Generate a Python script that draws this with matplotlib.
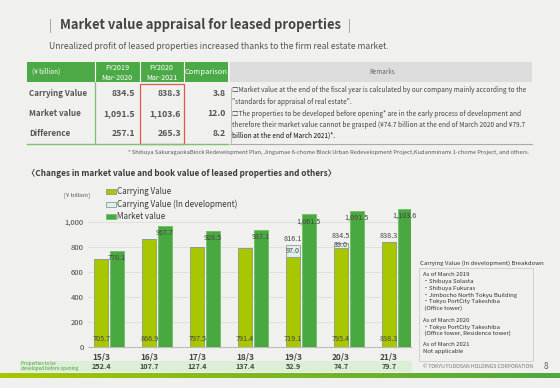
import numpy as np
import matplotlib
matplotlib.use("Agg")
import matplotlib.pyplot as plt
from matplotlib.patches import Rectangle
from matplotlib.lines import Line2D

plt.rcParams['font.family'] = ['Noto Sans CJK JP', 'DejaVu Sans']

# ---------------- data ----------------
years = ["15/3", "16/3", "17/3", "18/3", "19/3", "20/3", "21/3"]
carrying = [705.7, 866.9, 797.5, 791.4, 719.1, 795.4, 838.3]
in_dev = [0, 0, 0, 0, 97.0, 39.0, 0]
market = [770.1, 967.7, 928.5, 937.1, 1061.5, 1091.5, 1103.6]
carrying_total_labels = [None, None, None, None, "816.1", "834.5", "838.3"]
before_opening = ["252.4", "107.7", "127.4", "137.4", "52.9", "74.7", "79.7"]

table_rows = ["Carrying Value", "Market value", "Difference"]
fy2019 = ["834.5", "1,091.5", "257.1"]
fy2020 = ["838.3", "1,103.6", "265.3"]
comparison = ["3.8", "12.0", "8.2"]

remarks = [
    "□Market value at the end of the fiscal year is calculated by our company mainly according to the",
    "\"standards for appraisal of real estate\".",
    "□The properties to be developed before opening* are in the early process of development and",
    "therefore their market value cannot be grasped (¥74.7 billion at the end of March 2020 and ¥79.7",
    "billion at the end of March 2021)*.",
]
breakdown = [
    ("As of March 2019", 275), ("・Shibuya Solasta", 282), ("・Shibuya Fukuras", 288.5),
    ("・Jimbocho North Tokyu Building", 295), ("・Tokyo PortCity Takeshiba", 302),
    (" (Office tower)", 308.5), ("As of March 2020", 320), ("・Tokyo PortCity Takeshiba", 327),
    (" (Office tower, Residence tower)", 333.5), ("As of March 2021", 344), ("Not applicable", 351),
]

W, H = 560, 388
BG = "#f0f0ee"
C_CARRY = "#a8c700"
C_MARKET = "#4aa840"
C_DEV = "#dff0ec"
C_HEAD = "#4caa46"
TXT = "#444444"

fig = plt.figure(figsize=(W / 100, H / 100), dpi=100, facecolor=BG)


def fx(x):
    return x / W


def fy(y):
    return 1 - y / H


def T(x, y, s, **kw):
    kw.setdefault("va", "center")
    kw.setdefault("color", TXT)
    return fig.text(fx(x), fy(y), s, **kw)


def HL(x0, x1, y, **kw):
    fig.add_artist(Line2D([fx(x0), fx(x1)], [fy(y), fy(y)], transform=fig.transFigure, **kw))


def VL(x, y0, y1, **kw):
    fig.add_artist(Line2D([fx(x), fx(x)], [fy(y0), fy(y1)], transform=fig.transFigure, **kw))


def R(x0, y0, x1, y1, **kw):
    fig.add_artist(Rectangle((fx(x0), fy(y1)), fx(x1) - fx(x0), fy(y0) - fy(y1),
                             transform=fig.transFigure, **kw))


# ---------------- title ----------------
VL(50, 19, 32, color="#999999", lw=0.6)
VL(349, 19, 32, color="#999999", lw=0.6)
T(60, 25.5, "Market value appraisal for leased properties", fontsize=9.3, fontweight="bold", color="#454545")
T(49, 46.5, "Unrealized profit of leased properties increased thanks to the firm real estate market.",
  fontsize=6.2, color="#555555")

# ---------------- table ----------------
R(27, 62, 228, 82, facecolor=C_HEAD, edgecolor="none")
for x in (94.5, 139.5, 183.5):
    VL(x, 62, 82, color="white", lw=0.8)
T(32, 72, "(¥ billion)", fontsize=4.5, color="white")
T(117, 67.5, "FY2019", fontsize=5.2, color="white", ha="center")
T(117, 77.5, "Mar-2020", fontsize=5.2, color="white", ha="center")
T(161.5, 67.5, "FY2020", fontsize=5.2, color="white", ha="center")
T(161.5, 77.5, "Mar-2021", fontsize=5.2, color="white", ha="center")
T(206, 72, "Comparison", fontsize=5.4, color="white", ha="center")

R(230, 62, 532, 82, facecolor="#dcdcdc", edgecolor="none")
T(382, 72, "Remarks", fontsize=4.5, color="#666666", ha="center")

row_y = [94, 114, 134]
for i in range(3):
    T(29, row_y[i], table_rows[i], fontsize=5.8, fontweight="bold", color="#555555")
    T(135, row_y[i], fy2019[i], fontsize=6.3, fontweight="bold", color="#555555", ha="right")
    T(181, row_y[i], fy2020[i], fontsize=6.3, fontweight="bold", color="#555555", ha="right")
    T(226, row_y[i], comparison[i], fontsize=6.3, fontweight="bold", color="#555555", ha="right")

VL(94.5, 82, 143, color="#7cc070", lw=0.9)
HL(27, 228, 143.5, color="#7cc070", lw=1.0)
R(139.5, 83.5, 184, 144, facecolor="none", edgecolor="#de5a4a", lw=0.9)
VL(230.5, 88, 143, color="#aaaaaa", lw=0.5)
HL(230, 532, 143.5, color="#aaaaaa", lw=0.8)

rem_y = [90, 102.5, 113.5, 125, 135.5]
for i, (s, y) in enumerate(zip(remarks, rem_y)):
    T(232, y, s, fontsize=4.7, color="#444444" if i < 4 else "#111111")

T(529, 152.5, "* Shibuya SakuragaokaBlock Redevelopment Plan, Jingumae 6-chome Block Urban Redevelopment Project,"
  "Kudanminami 1-chome Project, and others.", fontsize=4.1, color="#555555", ha="right")

T(27, 173, "〈Changes in market value and book value of leased properties and others〉",
  fontsize=5.95, fontweight="bold", color="#3a3a3a")

# ---------------- chart ----------------
ax_l, ax_r, ax_t, ax_b = 88, 411, 188, 347
ax = fig.add_axes([fx(ax_l), fy(ax_b), fx(ax_r) - fx(ax_l), fy(ax_t) - fy(ax_b)])
ax.set_facecolor("none")
x = np.arange(len(years))
bw = 0.29
off = 0.325
b1 = ax.bar(x, carrying, bw, color=C_CARRY, edgecolor="#8e9a7a", lw=0.6, label="Carrying Value", zorder=3)
b2 = ax.bar(x, in_dev, bw, bottom=carrying, color=C_DEV, edgecolor="#8e9a9a", lw=0.6,
            label="Carrying Value (In development)", zorder=3)
b3 = ax.bar(x + off, market, bw, color=C_MARKET, edgecolor="#6cc060", lw=0.6, label="Market value", zorder=3)

ax.set_xlim(-0.28, 6.46)
ax.set_ylim(0, 1272)
ax.set_yticks([0, 200, 400, 600, 800, 1000])
ax.set_yticklabels(["0", "200", "400", "600", "800", "1,000"])
ax.set_xticks(x)
ax.set_xticklabels(years)
ax.tick_params(axis="both", length=0, colors=TXT)
ax.tick_params(axis="y", labelsize=5.5, pad=3)
ax.tick_params(axis="x", labelsize=6, pad=4)
for lab in ax.get_xticklabels():
    lab.set_fontweight("bold")
    lab.set_color("#444444")
ax.grid(axis="y", color="#dddddd", lw=0.6, zorder=0)
for s in ("left", "right", "top"):
    ax.spines[s].set_visible(False)
ax.spines["bottom"].set_color("#bbbbbb")
ax.spines["bottom"].set_linewidth(0.8)

lab_kw = dict(textcoords="offset points", ha="center", va="center", fontsize=5.2, color="#444444", zorder=5)
for i in range(len(years)):
    ax.annotate(f"{market[i]:,.1f}", (x[i] + off, market[i]), xytext=(0, -5), **lab_kw)
    ax.annotate(f"{carrying[i]:,.1f}", (x[i], 0), xytext=(0, 6), **lab_kw)
    if in_dev[i] > 0:
        ax.annotate(f"{in_dev[i]:,.1f}", (x[i], carrying[i] + in_dev[i] / 2), xytext=(0, 0), **lab_kw)
    if carrying_total_labels[i]:
        ax.annotate(carrying_total_labels[i], (x[i], carrying[i] + in_dev[i]), xytext=(0, 4.5), **lab_kw)

leg = fig.legend(handles=[b1, b2, b3], loc="upper left", bbox_to_anchor=(fx(105.5), fy(187.5)),
                 frameon=False, fontsize=5.8, handlelength=1.35, handleheight=0.55, handletextpad=0.05,
                 labelspacing=0.4, borderpad=0, borderaxespad=0)
for t in leg.get_texts():
    t.set_color("#3a3a3a")
T(64, 195, "[¥ billion]", fontsize=4.3, color="#555555")

# before-opening band
R(20, 360.5, 412, 372, facecolor="#dcefd6", edgecolor="none")
T(21, 363.5, "Properties to be", fontsize=3.4, color="#4a9a40")
T(21, 368.5, "developed before opening", fontsize=3.4, color="#4a9a40")
for i, v in enumerate(before_opening):
    xp = ax.transData.transform((x[i], 0))[0]
    fig.text(xp / fig.bbox.width, fy(366.5), v, fontsize=5.2, fontweight="bold", color="#444444",
             ha="center", va="center")

# ---------------- right breakdown box ----------------
T(420, 263, "Carrying Value (In development) Breakdown", fontsize=4.35, color="#333333")
R(419, 267.5, 532.5, 360.5, facecolor="none", edgecolor="#cccccc", lw=0.6)
for s, y in breakdown:
    T(423, y, s, fontsize=4.3, color="#333333")

T(533, 367, "© TOKYU FUDOSAN HOLDINGS CORPORATION", fontsize=3.7, color="#777777", ha="right")
T(546, 366.5, "8", fontsize=6, color="#666666", ha="center")

# ---------------- gradient bar ----------------
gax = fig.add_axes([0, fy(378.5), 1, 5.5 / H])
grad = np.linspace(0, 1, 256)
c0 = np.array([0.65, 0.78, 0.0])
c1 = np.array([0.30, 0.66, 0.25])
img = (c0[None, :] * (1 - grad[:, None]) + c1[None, :] * grad[:, None])[None, :, :]
gax.imshow(img, aspect="auto", extent=[0, 1, 0, 1])
gax.axis("off")

fig.savefig("out.png", dpi=100, facecolor=BG)
